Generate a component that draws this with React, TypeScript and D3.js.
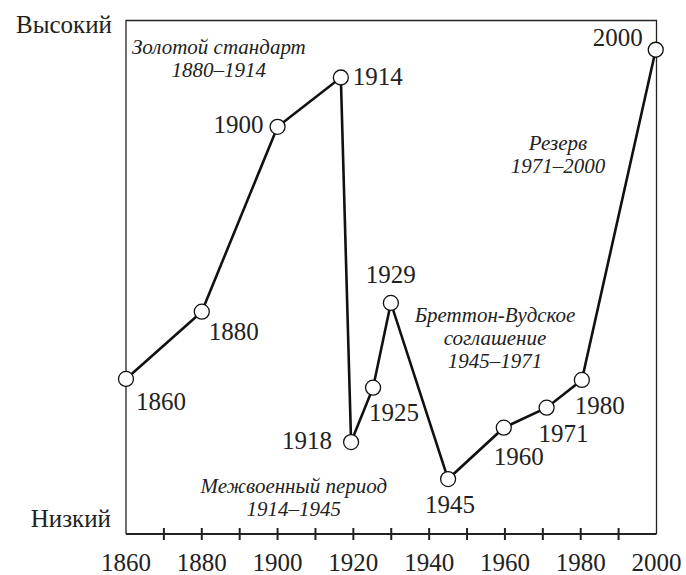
import * as d3 from "d3";

// point labels and where each point sits (x read in year units, y on a 0–100 "low–high" scale)
const labels = ["1860", "1880", "1900", "1914", "1918", "1925", "1929", "1945", "1960", "1971", "1980", "2000"];
const xYears = [1860, 1880, 1900, 1916.7, 1919.4, 1925.2, 1929.9, 1945, 1959.7, 1971, 1980.3, 1999.8];
const levels = [30.2, 43.3, 79.3, 88.9, 17.9, 28.5, 45.0, 10.7, 20.7, 24.6, 30.0, 94.3];

const tickYears = [1870, 1880, 1890, 1900, 1910, 1920, 1930, 1940, 1950, 1960, 1970, 1980, 1990];
const tickLabels = [1860, 1880, 1900, 1920, 1940, 1960, 1980, 2000];

// label placement relative to the point: [dx, dy, anchor]
const labelPos: [number, number, string][] = [
    [10, 31, "start"],
    [7, 28, "start"],
    [-14, 6, "end"],
    [12, 8, "start"],
    [-19, 7, "end"],
    [-4, 33, "start"],
    [0, -20, "middle"],
    [2, 34, "middle"],
    [-10, 37, "start"],
    [-8, 34, "start"],
    [-7, 34, "start"],
    [-13, -4, "end"],
];

const periods = [
    { lines: ["Золотой стандарт", "1880–1914"], year: 1884.5, y: 54 },
    { lines: ["Резерв", "1971–2000"], year: 1974.0, y: 150 },
    { lines: ["Бреттон-Вудское", "соглашение", "1945–1971"], year: 1957.4, y: 322 },
    { lines: ["Межвоенный период", "1914–1945"], year: 1904.3, y: 493 },
];

const serif = { fontFamily: "Liberation Serif" };

export default function App() {
    const width = 686;
    const height = 575;
    const left = 126, right = 656.5, top = 20.5, bottom = 534;

    const x = d3.scaleLinear().domain([1860, 2000]).range([left, right]);
    const y = d3.scaleLinear().domain([0, 100]).range([bottom, top]);

    const pts = xYears.map((d, i) => [x(d), y(levels[i])] as [number, number]);
    const line = d3.line();

    return (
        <svg width={width} height={height} style={{ position: "absolute", left: 0, top: 0 }}>
            <rect width={width} height={height} fill="white" />

            {/* frame */}
            <path d={`M${left},${bottom} V${top} H${right} V${bottom}`} fill="none" stroke="#222" strokeWidth={1.3} />
            <line x1={left} x2={right} y1={bottom} y2={bottom} stroke="#222" strokeWidth={2.2} />

            {tickYears.map(t => (
                <line key={t} x1={x(t)} x2={x(t)} y1={bottom - 6} y2={bottom + 6} stroke="#222" strokeWidth={2} />
            ))}
            {tickLabels.map(t => (
                <text key={t} x={x(t)} y={571} fontSize={25} textAnchor="middle" fill="#222" style={serif}>{t}</text>
            ))}

            <text x={112} y={33} fontSize={25} textAnchor="end" fill="#222" style={serif}>Высокий</text>
            <text x={111} y={527} fontSize={25} textAnchor="end" fill="#222" style={serif}>Низкий</text>

            {periods.map((p, i) => (
                <text key={i} x={x(p.year)} y={p.y} fontSize={21} fontStyle="italic" textAnchor="middle" fill="#222"
                    style={serif}>
                    {p.lines.map((l, j) => (
                        <tspan key={j} x={x(p.year)} dy={j === 0 ? 0 : 23}>{l}</tspan>
                    ))}
                </text>
            ))}

            <path d={line(pts) || ""} fill="none" stroke="#111" strokeWidth={2.6} />

            {pts.map((p, i) => (
                <circle key={i} cx={p[0]} cy={p[1]} r={7.5} fill="white" stroke="#111" strokeWidth={1.3} />
            ))}

            {pts.map((p, i) => (
                <text key={i} x={p[0] + labelPos[i][0]} y={p[1] + labelPos[i][1]} fontSize={25}
                    textAnchor={labelPos[i][2]} fill="#222" style={serif}>{labels[i]}</text>
            ))}
        </svg>
    );
}
